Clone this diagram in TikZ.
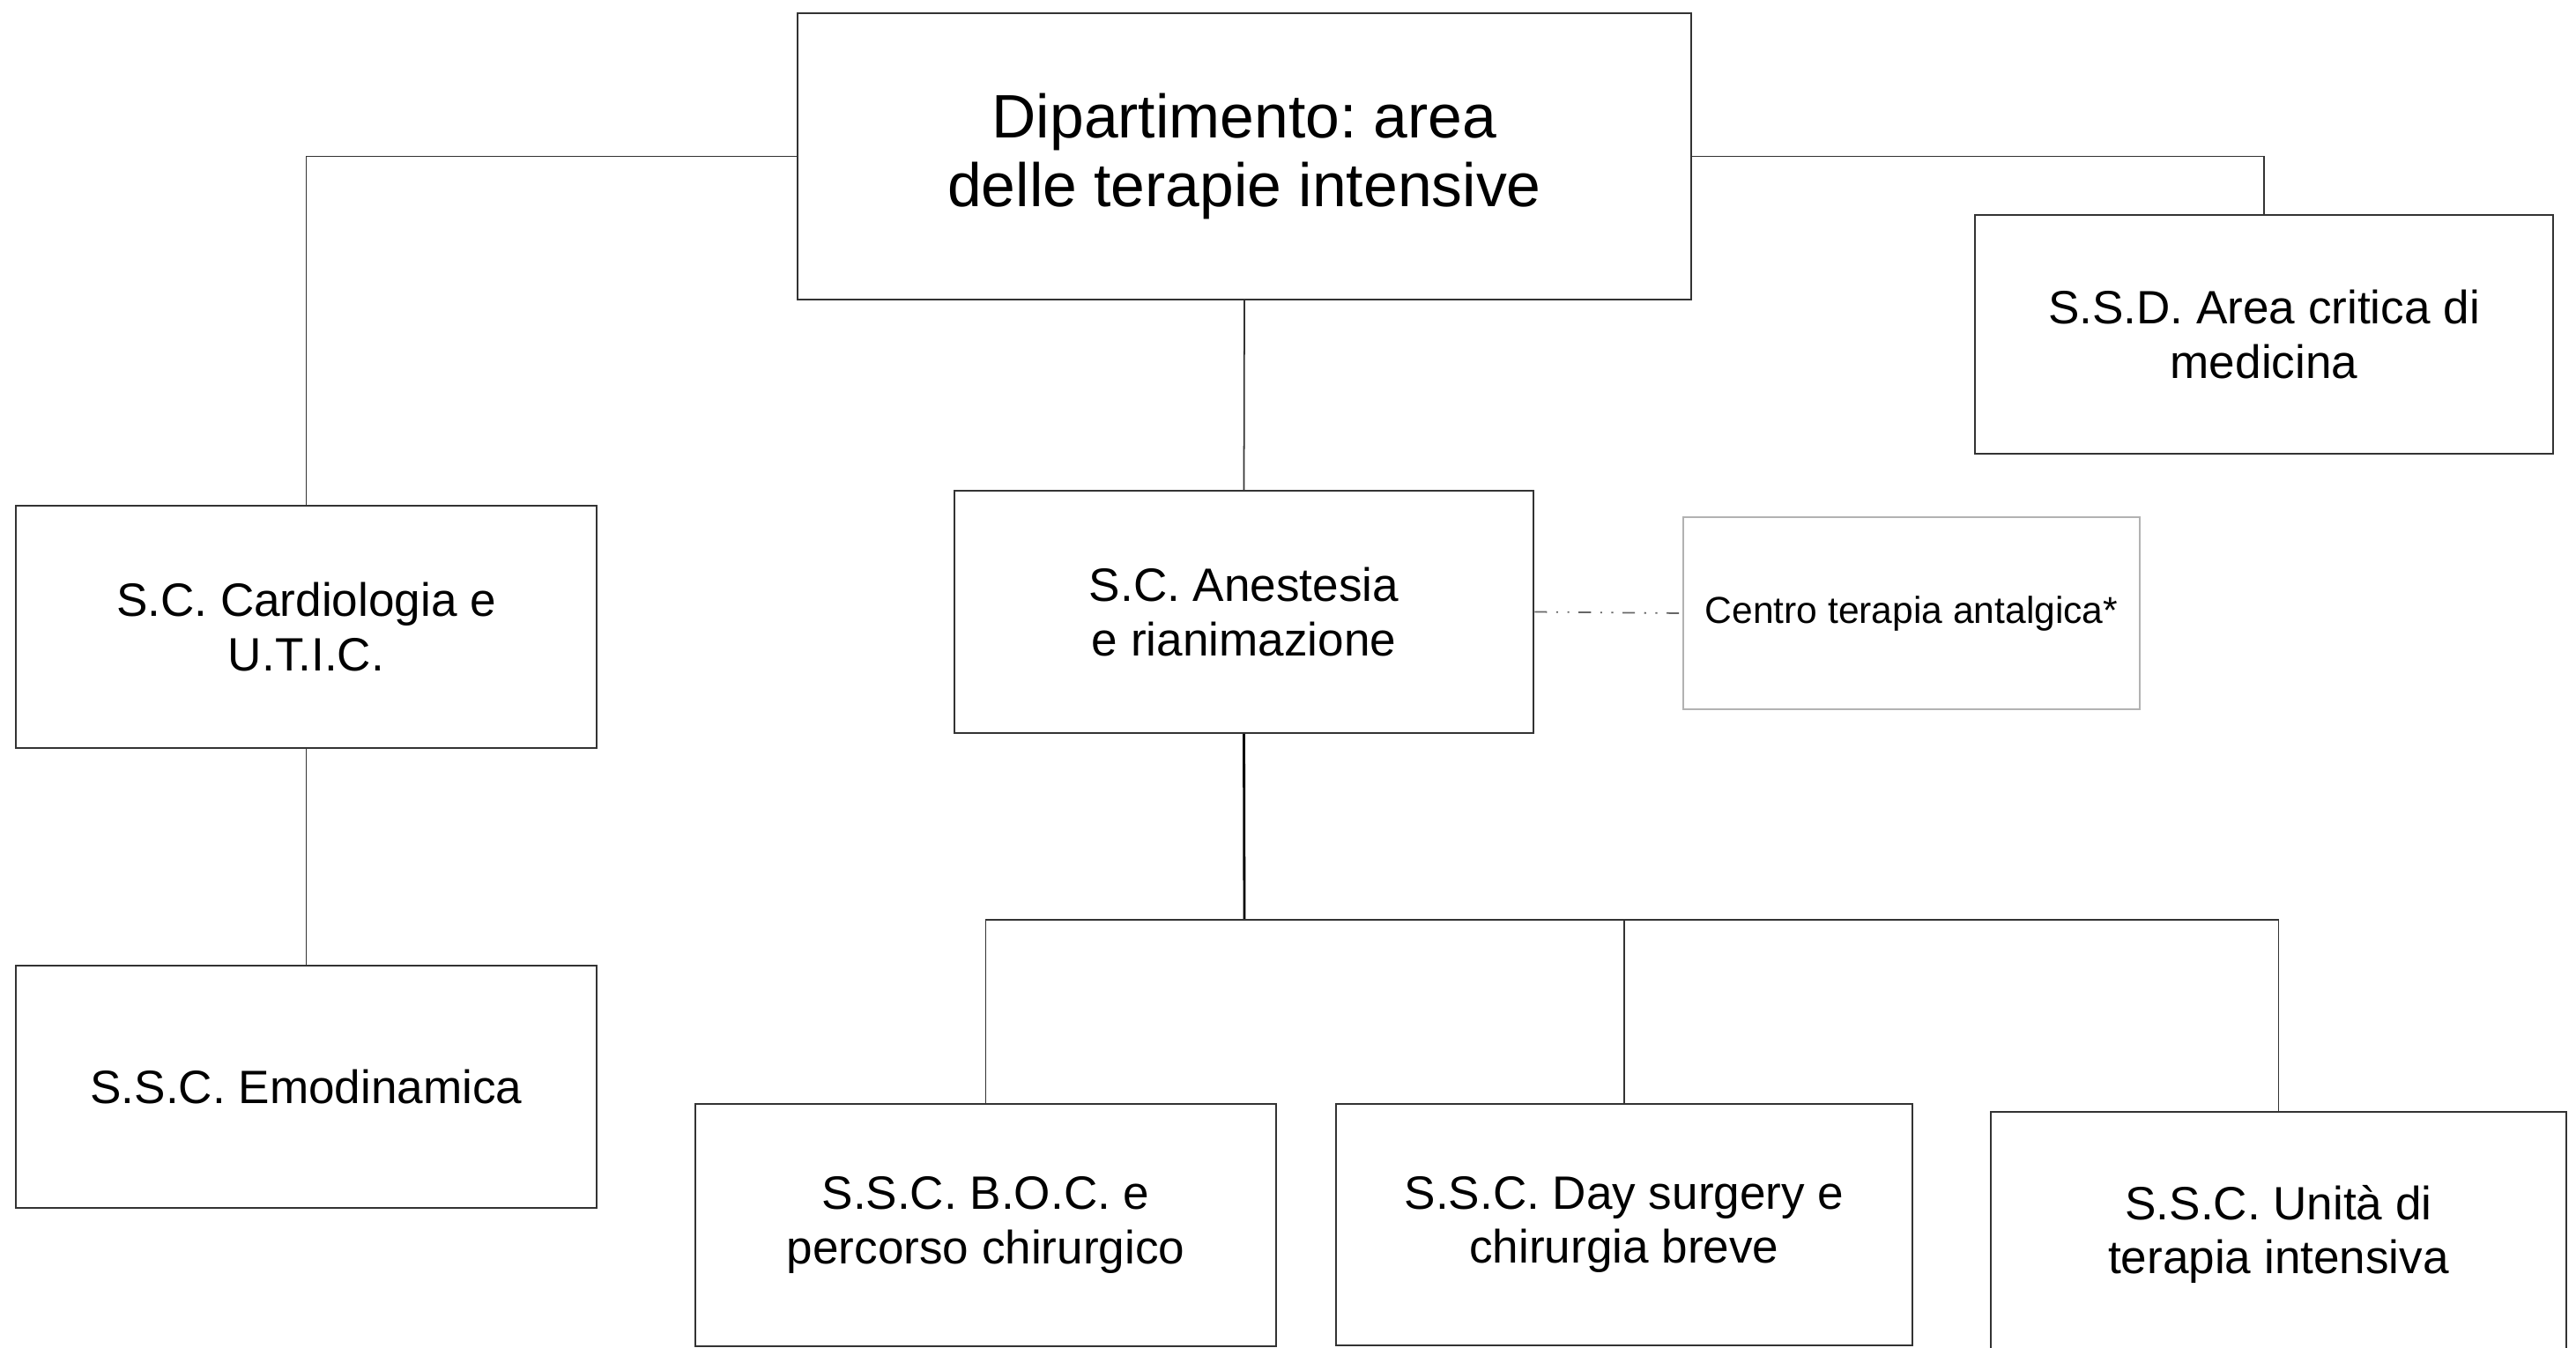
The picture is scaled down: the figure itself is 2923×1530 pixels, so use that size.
\documentclass[tikz,border=0pt]{standalone}
\usepackage{fontspec}
\setmainfont{Liberation Sans}
\frenchspacing
\begin{document}
\begin{tikzpicture}[x=0.01cm,y=-0.01cm,
  box/.style={draw=black!80, line width=0.6pt, rectangle, align=center, inner sep=0pt, fill=white},
  bigtext/.style={font=\fontsize{19.8pt}{22.3pt}\selectfont},
  midtext/.style={font=\fontsize{15.1pt}{17.5pt}\selectfont},
  smalltext/.style={font=\fontsize{12.1pt}{14pt}\selectfont},
  conn/.style={draw=black!80, line width=0.5pt},
  dashconn/.style={draw=black!60, line width=0.5pt, dash pattern=on 4pt off 3pt on 0.6pt off 3pt on 0.6pt off 3pt}]
\useasboundingbox (0,0) rectangle (2923,1530);
\fill[white] (0,0) rectangle (2923,1530);

\node[box,bigtext,minimum width=10.14cm,minimum height=3.25cm] (top) at (1412,177.5) {Dipartimento: area\\delle terapie intensive};
\node[box,midtext,minimum width=6.59cm,minimum height=2.75cm] (card) at (347.5,711.5) {S.C. Cardiologia e\\U.T.I.C.};
\node[box,midtext,minimum width=6.59cm,minimum height=2.75cm] (emo) at (347.5,1233.5) {S.S.C. Emodinamica};
\node[box,midtext,minimum width=6.57cm,minimum height=2.75cm] (anes) at (1411.5,694.5) {S.C. Anestesia\\e rianimazione};
\node[box,smalltext,draw=black!30,minimum width=5.18cm,minimum height=2.18cm] (centro) at (2169,696) {Centro terapia antalgica*};
\node[box,midtext,minimum width=6.56cm,minimum height=2.71cm] (ssd) at (2569,379.5) {S.S.D. Area critica di\\medicina};
\node[box,midtext,minimum width=6.59cm,minimum height=2.75cm] (boc) at (1118.5,1390.5) {S.S.C. B.O.C. e\\percorso chirurgico};
\node[box,midtext,minimum width=6.54cm,minimum height=2.74cm] (day) at (1843,1390) {S.S.C. Day surgery e\\chirurgia breve};
\node[box,midtext,minimum width=6.53cm,minimum height=2.78cm] (uti) at (2585.5,1401) {S.S.C. Unità di\\terapia intensiva};

\coordinate (bus) at (1412,1044);

\draw[conn] (top.west) -| (card.north);
\draw[conn] (top.east) -| (ssd.north);
\draw[conn] (top.south) -- (anes.north);
\draw[conn] (card.south) -- (emo.north);
\draw[draw=black, line width=0.8pt] (anes.south) -- (bus);
\draw[conn] (boc.north) |- (bus) -| (uti.north);
\draw[conn] (day.north) -- (day.north |- bus);
\draw[dashconn] (anes.east) -- (centro.west);
\end{tikzpicture}
\end{document}
